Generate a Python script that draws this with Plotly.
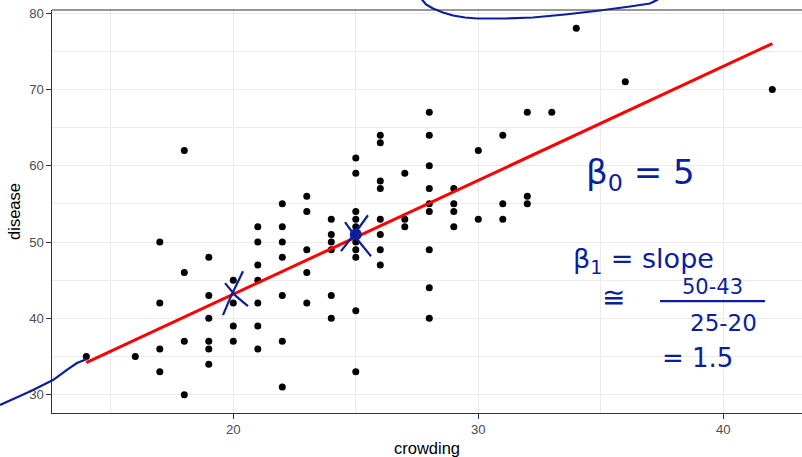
import numpy as np
import plotly.graph_objects as go

# ---- data ----
crowding_cols = [14, 16, 17, 18, 19, 20, 21, 22, 23, 24, 25, 26, 27, 28, 29, 30, 31, 32, 33, 34, 36, 42]
disease_cols = [
    [35],
    [35],
    [50, 42, 36, 33],
    [62, 46, 37, 30],
    [48, 43, 40, 37, 36, 34],
    [45, 42, 39, 37],
    [52, 50, 47, 45, 42, 39, 36],
    [55, 52, 50, 48, 43, 37, 31],
    [56, 54, 49, 46, 42],
    [53, 51, 50, 49, 43, 40],
    [61, 59, 54, 53, 52, 51, 50, 49, 48, 41, 33],
    [64, 63, 58, 57, 53, 51, 49, 47],
    [59, 53, 52],
    [67, 64, 60, 57, 55, 54, 49, 44, 40],
    [57, 55, 54, 52],
    [62, 53],
    [64, 55, 53],
    [67, 56, 55],
    [67],
    [78],
    [71],
    [70],
]
crowding = []
disease = []
for cx, ys in zip(crowding_cols, disease_cols):
    for yv in ys:
        crowding.append(cx)
        disease.append(yv)
crowding = np.array(crowding, dtype=float)
disease = np.array(disease, dtype=float)

x_ticks = [20, 30, 40]
y_ticks = [30, 40, 50, 60, 70, 80]
marked_x = [20, 25]
marked_y = [43, 51]

# linear fit (geom_smooth(method = "lm"))
slope, intercept = np.polyfit(crowding, disease, 1)
fit_x = np.array([crowding.min(), crowding.max()])
fit_y = intercept + slope * fit_x

W, H = 802, 457
L, T, B, R = 52, 9.5, 44, 0
pw, ph = W - L - R, H - T - B

def px(x, y):
    return ((x - L) / pw, (H - B - y) / ph)

def path(points):
    s = ""
    for i, (x, y) in enumerate(points):
        a, b = px(x, y)
        s += ("M" if i == 0 else "L") + f"{a:.4f},{b:.4f} "
    return s

fig = go.Figure()
fig.add_trace(go.Scatter(x=crowding, y=disease, mode="markers",
                         marker=dict(color="black", size=7), showlegend=False,
                         hoverinfo="x+y"))
fig.add_trace(go.Scatter(x=fit_x, y=fit_y, mode="lines",
                         line=dict(color="#FF0000", width=3), showlegend=False))

blue = "#0B1E9C"
# handwritten marks
fig.add_trace(go.Scatter(x=[marked_x[1]], y=[marked_y[1]], mode="markers",
                         marker=dict(color=blue, size=12), showlegend=False))

shapes = []
strokes = [
    [(223, 315), (231, 296), (243, 271)],
    [(225, 283), (236, 296), (248, 306)],
    [(341, 251), (355, 233), (368, 215)],
    [(345, 222), (358, 240), (371, 256)],
    [(0, 405), (20, 396), (33, 390), (53, 380), (68, 369), (77, 363), (87, 359)],
    [(422, -1), (426, 4), (433, 8), (443, 12), (453, 15), (465, 17), (477, 18),
     (505, 18), (533, 17), (565, 14), (600, 10), (630, 6), (650, 3), (658, -1)],
    [(660, 301), (765, 301)],
]
for s in strokes:
    shapes.append(dict(type="path", path=path(s), xref="paper", yref="paper",
                       line=dict(color=blue, width=2.2), layer="above"))
# top panel border
shapes.append(dict(type="line", xref="paper", yref="paper", x0=0, x1=1, y0=1, y1=1,
                   line=dict(color="#333333", width=1.1)))

annotations = []
def note(text, x, y, size):
    a, b = px(x, y)
    annotations.append(dict(text=text, x=a, y=b, xref="paper", yref="paper",
                            showarrow=False, xanchor="center", yanchor="middle",
                            font=dict(family="DejaVu Sans", size=size, color=blue)))

note("β<sub>0</sub> = 5", 640, 174, 34)
note("β<sub>1</sub> = slope", 643, 260, 27)
note("≅", 613, 297, 28)
note("50-43", 712, 287, 21)
note("25-20", 723, 323, 23)
note("= 1.5", 697, 358, 26)

axis_common = dict(
    showgrid=True, gridcolor="#EBEBEB", gridwidth=1.1,
    zeroline=False, showline=True, linecolor="#333333", linewidth=1.1,
    ticks="outside", ticklen=4.5, tickcolor="#333333", tickwidth=1.1,
    tickfont=dict(family="Liberation Sans, Arial", size=13.2, color="#4D4D4D"),
)

fig.update_layout(
    width=W, height=H,
    margin=dict(l=L, r=R, t=T, b=B),
    plot_bgcolor="white", paper_bgcolor="white",
    xaxis=dict(range=[12.6, 12.6 + pw / 24.5], tickvals=x_ticks,
               minor=dict(dtick=5, tick0=15, showgrid=True, gridcolor="#EBEBEB", gridwidth=0.55, ticks=""),
               title=dict(text="crowding", standoff=6,
                          font=dict(family="Liberation Sans, Arial", size=16.5, color="black")),
               **axis_common),
    yaxis=dict(range=[27.6, 80.4], tickvals=y_ticks,
               minor=dict(dtick=10, tick0=35, showgrid=True, gridcolor="#EBEBEB", gridwidth=0.55, ticks=""),
               title=dict(text="disease", standoff=4,
                          font=dict(family="Liberation Sans, Arial", size=16.5, color="black")),
               **axis_common),
    shapes=shapes,
    annotations=annotations,
)

fig.write_html("out.html")
